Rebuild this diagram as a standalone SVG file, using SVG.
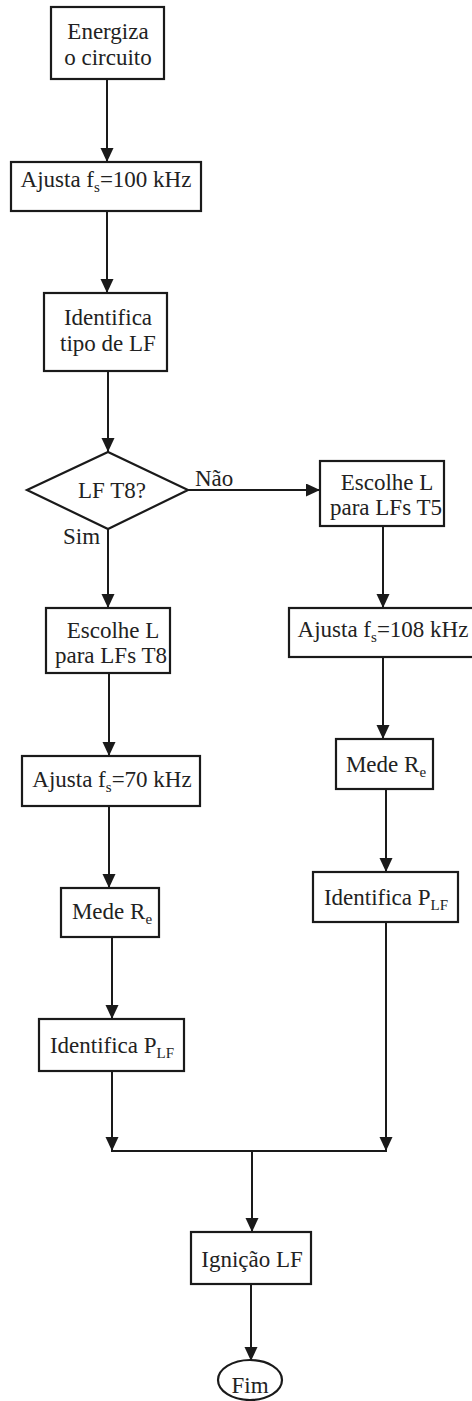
<svg xmlns="http://www.w3.org/2000/svg" width="472" height="1401" viewBox="0 0 472 1401" font-family="'Liberation Serif', 'DejaVu Serif', serif">
<style>
.box{fill:#fff;stroke:#1a1a1a;stroke-width:2.2}
.ln{fill:none;stroke:#1a1a1a;stroke-width:2}
.arr{marker-end:url(#ah)}
text{font-family:'Liberation Serif','DejaVu Serif',serif;font-size:23px;fill:#222;text-anchor:middle}
.lbl{text-anchor:start}
.sub{font-size:15px}
</style>
<defs>
<marker id="ah" markerUnits="userSpaceOnUse" markerWidth="14" markerHeight="14" refX="14" refY="6.5" orient="auto">
<path d="M0,0 L14,6.5 L0,13 z" fill="#1a1a1a"/>
</marker>
</defs>
<rect width="472" height="1401" fill="#fff"/>
<g id="connectors">
<line class="ln arr" x1="107" y1="79" x2="107" y2="162"/>
<line class="ln arr" x1="107" y1="211" x2="107" y2="293"/>
<line class="ln arr" x1="108" y1="371" x2="108" y2="452"/>
<line class="ln arr" x1="188" y1="490" x2="320" y2="490"/>
<line class="ln arr" x1="108" y1="529" x2="108" y2="608"/>
<line class="ln arr" x1="109" y1="673" x2="109" y2="756"/>
<line class="ln arr" x1="109" y1="806" x2="109" y2="888"/>
<line class="ln arr" x1="112" y1="937" x2="112" y2="1019"/>
<line class="ln arr" x1="112" y1="1071" x2="112" y2="1151"/>
<line class="ln arr" x1="383" y1="526" x2="383" y2="608"/>
<line class="ln arr" x1="383" y1="657" x2="383" y2="739"/>
<line class="ln arr" x1="386" y1="789" x2="386" y2="872"/>
<line class="ln arr" x1="386" y1="922" x2="386" y2="1151"/>
<line class="ln" x1="111" y1="1151" x2="387" y2="1151"/>
<line class="ln arr" x1="252" y1="1151" x2="252" y2="1232"/>
<line class="ln arr" x1="251" y1="1284" x2="251" y2="1361"/>
<text class="lbl" x="195" y="486">Não</text>
<text class="lbl" x="63" y="544">Sim</text>
</g>
<g id="n1">
<rect class="box" x="51" y="7" width="113" height="72"/>
<text x="108" y="39">Energiza</text>
<text x="108" y="65">o circuito</text>
</g>
<g id="n2">
<rect class="box" x="11" y="162" width="190" height="49"/>
<text x="106" y="187">Ajusta f<tspan class="sub" dy="5">s</tspan><tspan dy="-5">=100 kHz</tspan></text>
</g>
<g id="n3">
<rect class="box" x="44" y="293" width="123" height="78"/>
<text x="108" y="325">Identifica</text>
<text x="108" y="351">tipo de LF</text>
</g>
<g id="n4">
<polygon class="box" points="27,490 108,452 188,490 108,529"/>
<text x="112" y="498">LF T8?</text>
</g>
<g id="n5">
<rect class="box" x="320" y="461" width="124" height="65"/>
<text x="387" y="490">Escolhe L</text>
<text x="386" y="515">para LFs T5</text>
</g>
<g id="n6">
<rect class="box" x="46" y="608" width="124" height="65"/>
<text x="113" y="638">Escolhe L</text>
<text x="111" y="663">para LFs T8</text>
</g>
<g id="n7">
<rect class="box" x="289" y="608" width="190" height="49"/>
<text x="383" y="637">Ajusta f<tspan class="sub" dy="5">s</tspan><tspan dy="-5">=108 kHz</tspan></text>
</g>
<g id="n8">
<rect class="box" x="22" y="756" width="178" height="50"/>
<text x="112" y="787">Ajusta f<tspan class="sub" dy="5">s</tspan><tspan dy="-5">=70 kHz</tspan></text>
</g>
<g id="n9">
<rect class="box" x="61" y="888" width="98" height="49"/>
<text x="112" y="919">Mede R<tspan class="sub" dy="5">e</tspan></text>
</g>
<g id="n10">
<rect class="box" x="336" y="739" width="97" height="50"/>
<text x="386" y="772">Mede R<tspan class="sub" dy="5">e</tspan></text>
</g>
<g id="n11">
<rect class="box" x="313" y="872" width="145" height="50"/>
<text x="386" y="905">Identifica P<tspan class="sub" dy="5">LF</tspan></text>
</g>
<g id="n12">
<rect class="box" x="39" y="1019" width="145" height="52"/>
<text x="112" y="1053">Identifica P<tspan class="sub" dy="5">LF</tspan></text>
</g>
<g id="n13">
<rect class="box" x="191" y="1232" width="120" height="52"/>
<text x="252" y="1267">Ignição LF</text>
</g>
<g id="n14">
<ellipse class="box" cx="250" cy="1380" rx="32" ry="20"/>
<text x="250" y="1393">Fim</text>
</g>
</svg>
